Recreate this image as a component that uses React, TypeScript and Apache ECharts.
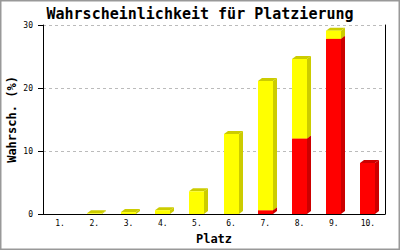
import React, { useEffect, useRef } from "react";
import * as echarts from "echarts";

const categories = ["1.", "2.", "3.", "4.", "5.", "6.", "7.", "8.", "9.", "10."];
const redValues = [0, 0, 0, 0, 0, 0, 0.6, 12.0, 27.8, 8.1];
const yellowValues = [0, 0.1, 0.3, 0.6, 3.6, 12.7, 20.5, 12.6, 1.3, 0];
const yTicks = [0, 10, 20, 30];

const FRONT_W = 15;
const DX = 4;
const DY = 3;

function makeRender(front: string, dark: string) {
  return (params: any, api: any) => {
    const idx = api.value(0);
    const base = api.value(1);
    const top = api.value(2);
    if (!(top - base > 0)) return null;
    const p0 = api.coord([idx, base]);
    const p1 = api.coord([idx, top]);
    const xl = Math.round(p0[0] - FRONT_W / 2);
    const xr = xl + FRONT_W;
    const yb = p0[1];
    const yt = p1[1];
    return {
      type: "group",
      children: [
        {
          type: "polygon",
          shape: { points: [[xr, yb], [xr + DX, yb - DY], [xr + DX, yt - DY], [xr, yt]] },
          style: { fill: dark },
        },
        {
          type: "polygon",
          shape: { points: [[xl, yt], [xl + DX, yt - DY], [xr + DX, yt - DY], [xr, yt]] },
          style: { fill: dark },
        },
        {
          type: "rect",
          shape: { x: xl, y: yt, width: FRONT_W, height: yb - yt },
          style: { fill: front },
        },
      ],
    };
  };
}

export default function App() {
  const ref = useRef<HTMLDivElement>(null);
  useEffect(() => {
    document.body.style.margin = "0";
    const chart = echarts.init(ref.current!, undefined, { renderer: "svg" });
    const redData = categories.map((_, i) => [i, 0, redValues[i]]);
    const yellowData = categories.map((_, i) => [i, redValues[i], redValues[i] + yellowValues[i]]);
    const mono = "'DejaVu Sans Mono', monospace";
    chart.setOption({
      animation: false,
      backgroundColor: "#ffffff",
      title: {
        text: "Wahrscheinlichkeit für Platzierung",
        left: "center",
        top: 1,
        textStyle: { fontFamily: mono, fontWeight: "bold", fontSize: 15, color: "#000" },
      },
      graphic: [
        {
          type: "rect",
          shape: { x: 0.75, y: 0.75, width: 398.5, height: 248.5 },
          style: { fill: "none", stroke: "#999", lineWidth: 1.5 },
          silent: true,
        },
      ],
      grid: { left: 43, right: 15, top: 25, bottom: 36, containLabel: false, outerBoundsMode: "none" },
      xAxis: {
        type: "category",
        data: categories,
        name: "Platz",
        nameLocation: "middle",
        nameGap: 25,
        nameMoveOverlap: false,
        nameTextStyle: { fontFamily: mono, fontWeight: "bold", fontSize: 12, color: "#000", verticalAlign: "middle" },
        axisLine: { lineStyle: { color: "#000", width: 1 } },
        axisTick: { show: false },
        axisLabel: { fontFamily: mono, fontSize: 8, color: "#000", margin: 5, interval: 0 },
        splitLine: { show: false },
      },
      yAxis: [
        {
          type: "value",
          min: yTicks[0],
          max: yTicks[yTicks.length - 1],
          interval: 10,
          name: "Wahrsch. (%)",
          nameLocation: "middle",
          nameGap: 31,
          nameMoveOverlap: false,
          nameTextStyle: { fontFamily: mono, fontWeight: "bold", fontSize: 12, color: "#000", verticalAlign: "middle" },
          axisLine: { show: true, lineStyle: { color: "#000", width: 1 } },
          axisTick: { show: true, length: 5, lineStyle: { color: "#000" } },
          axisLabel: { fontFamily: mono, fontSize: 8, color: "#000", margin: 10 },
          splitLine: { show: true, lineStyle: { color: "#bbb", type: [3, 3], width: 1 } },
        },
        {
          type: "value",
          position: "right",
          min: 0,
          max: 30,
          interval: 10,
          axisLine: { show: true, lineStyle: { color: "#000", width: 1 } },
          axisTick: { show: false },
          axisLabel: { show: false },
          splitLine: { show: false },
        },
      ],
      series: [
        {
          type: "custom",
          renderItem: makeRender("#ff0000", "#cc0000"),
          data: redData,
          encode: { x: 0, y: [1, 2] },
          z: 2,
        },
        {
          type: "custom",
          renderItem: makeRender("#ffff00", "#cccc00"),
          data: yellowData,
          encode: { x: 0, y: [1, 2] },
          z: 3,
        },
      ],
    });
    return () => chart.dispose();
  }, []);
  return <div ref={ref} style={{ width: 400, height: 250 }} />;
}
